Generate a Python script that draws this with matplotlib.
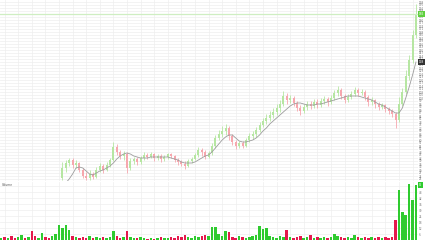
import numpy as np
import matplotlib.pyplot as plt
from matplotlib.ticker import MultipleLocator, FormatStrFormatter

# daily candles, oldest first (first 18 sit below the visible price range)
opens = [10, 12, 11, 13, 12, 10, 11, 13, 12, 14, 13, 11, 12, 14, 13, 12, 14, 16,
         22, 32, 37, 40, 35, 37, 30, 24, 22, 26, 23, 30, 34, 30, 35, 40, 53, 48, 44, 46, 32, 39, 41, 38,
         42, 45, 43, 46, 42, 44, 41, 43, 46, 44, 40, 38, 36, 34, 39, 41, 45, 50, 48, 43,
         47, 54, 62, 66, 69, 72, 64, 58, 54, 57, 54, 60, 64, 66, 70, 75, 79, 82, 85, 88,
         92, 96, 104, 100, 102, 97, 92, 89, 93, 96, 94, 98, 95, 99, 101, 98, 102, 107, 110, 104,
         100, 103, 106, 110, 107, 108, 103, 98, 100, 96, 93, 95, 91, 89, 86, 80, 96, 108, 124, 140, 165]
closes = [12, 11, 13, 12, 10, 11, 13, 12, 14, 13, 11, 12, 14, 13, 12, 14, 16, 17,
          32, 37, 40, 35, 37, 30, 24, 22, 26, 23, 30, 34, 30, 35, 40, 53, 48, 44, 46, 32, 39, 41, 38, 42,
          45, 43, 46, 42, 44, 41, 43, 46, 44, 40, 38, 36, 34, 39, 41, 45, 50, 48, 43, 47,
          54, 62, 66, 69, 72, 64, 58, 54, 57, 54, 60, 64, 66, 70, 75, 79, 82, 85, 88, 92,
          96, 104, 100, 102, 97, 92, 89, 93, 96, 94, 98, 95, 99, 101, 98, 102, 107, 110, 104, 100,
          103, 106, 110, 107, 108, 103, 98, 100, 96, 93, 95, 91, 89, 86, 80, 96, 108, 124, 140, 165, 186]
highs = [13, 13, 14, 14, 13, 12, 14, 14, 15, 15, 14, 13, 15, 15, 14, 15, 17, 18,
         38, 40, 42, 42, 40, 38, 32, 28, 30, 28, 33, 37, 36, 38, 42, 58, 56, 50, 49, 48, 42, 43, 43, 44,
         48, 47, 48, 47, 46, 46, 45, 47, 47, 45, 42, 40, 39, 41, 43, 47, 53, 52, 50, 49,
         57, 65, 70, 74, 76, 74, 66, 60, 59, 59, 62, 67, 69, 73, 78, 82, 86, 89, 92, 96,
         100, 109, 107, 105, 104, 99, 95, 96, 99, 99, 101, 101, 102, 104, 103, 105, 110, 114, 112, 106,
         106, 109, 113, 112, 111, 110, 105, 103, 101, 98, 97, 96, 93, 91, 88, 103, 112, 130, 145, 170, 196]
lows = [9, 10, 10, 11, 9, 9, 10, 11, 11, 12, 10, 10, 11, 12, 11, 11, 13, 15,
        20, 28, 34, 32, 32, 28, 22, 20, 20, 21, 22, 28, 27, 29, 33, 39, 45, 41, 40, 27, 30, 36, 35, 36,
        40, 41, 42, 39, 40, 38, 39, 41, 42, 38, 35, 34, 31, 33, 37, 40, 43, 44, 41, 42,
        45, 52, 60, 63, 65, 60, 55, 51, 52, 52, 53, 58, 61, 63, 68, 73, 76, 79, 82, 85,
        88, 94, 96, 97, 94, 89, 85, 87, 90, 91, 92, 92, 93, 96, 94, 96, 100, 104, 101, 97,
        98, 101, 104, 104, 105, 100, 94, 95, 92, 90, 91, 88, 86, 83, 72, 78, 94, 106, 120, 137, 162]
ma = [8, 8, 9, 9, 9, 10, 10, 10, 11, 11, 11, 11, 12, 12, 12, 12, 13, 13,
      14, 17, 21, 26, 32, 33, 32, 29, 26, 25, 27, 29, 30, 32, 34, 37, 41, 44, 46, 47, 46, 44, 43, 42,
      42, 42, 43, 43, 43, 43, 43, 43, 42, 41, 40, 38, 37, 37, 37, 38, 40, 42, 44, 45,
      48, 52, 56, 60, 63, 65, 65, 62, 59, 58, 58, 59, 60, 62, 65, 69, 72, 76, 79, 82,
      85, 88, 91, 94, 96, 97, 97, 96, 95, 95, 95, 96, 96, 97, 98, 99, 100, 101, 102, 103,
      104, 104, 104, 104, 103, 102, 101, 100, 98, 96, 95, 93, 91, 89, 87, 87, 92, 102, 113, 125, 138]
volume = [2, 3, 2, 4, 2, 3, 5, 2, 3, 9, 4, 2, 7, 3, 2, 4, 6, 15,
          12, 15, 10, 4, 3, 2, 3, 2, 4, 2, 3, 2, 3, 2, 3, 9, 4, 2, 3, 9, 3, 2, 2, 3,
          2, 1, 2, 1, 2, 3, 2, 2, 3, 2, 4, 3, 5, 3, 2, 4, 3, 4, 5, 4,
          13, 13, 6, 4, 9, 8, 3, 2, 4, 3, 2, 3, 4, 5, 14, 11, 12, 4, 3, 2,
          4, 3, 10, 3, 2, 3, 4, 2, 3, 5, 2, 3, 2, 3, 2, 3, 6, 4, 3, 2,
          3, 2, 5, 3, 2, 3, 2, 3, 2, 3, 2, 3, 2, 3, 20, 50, 28, 25, 56, 40, 55]
vol_ticks = [6, 12, 18, 24, 30, 36, 42, 48, 54]

o = np.array(opens, float)
c = np.array(closes, float)
h = np.array(highs, float)
l = np.array(lows, float)
idx = np.arange(len(c))
up = c >= o

W = 418 / 427
fig = plt.figure(figsize=(4.27, 2.4), dpi=100)
ax = fig.add_axes([0, 59 / 240, W, 181 / 240])
axv = fig.add_axes([0, 0, W, 58 / 240], sharex=ax)

for a in (ax, axv):
    for s in a.spines.values():
        s.set_visible(False)
    a.grid(True, color='#eeeeee', lw=0.5)
    a.set_axisbelow(True)
    a.yaxis.tick_right()
    a.tick_params(axis='y', length=0, pad=0.8, labelsize=2, labelcolor='#777')
    a.tick_params(axis='x', length=0, labelbottom=False)
    a.xaxis.set_major_locator(MultipleLocator(4, offset=1))

# candles
ccol = np.where(up, '#b6e6a2', '#f6a7ae')
ax.vlines(idx, l, h, colors=ccol, lw=0.6)
ax.bar(idx, np.maximum(np.abs(c - o), 0.4), bottom=np.minimum(o, c), width=0.6,
       color=ccol, linewidth=0)
ax.plot(idx, ma, color='#9c9c9c', lw=0.6)
ax.axhline(c[-1], color='#cfeec2', lw=0.9)

ax.set_xlim(-0.35, 122.6)
ax.set_ylim(19, 200)
ax.yaxis.set_major_locator(MultipleLocator(3))
ax.yaxis.set_major_formatter(FormatStrFormatter('%.0f'))
ax.text(1.002, c[-1], f'{c[-1]:.0f}', transform=ax.get_yaxis_transform(),
        fontsize=2, color='white', va='center', ha='left',
        bbox=dict(boxstyle='square,pad=0.2', fc='#5fcf3f', ec='none'))
ax.text(1.002, ma[-1], f'{ma[-1]:.0f}', transform=ax.get_yaxis_transform(),
        fontsize=2, color='white', va='center', ha='left',
        bbox=dict(boxstyle='square,pad=0.2', fc='#333333', ec='none'))

# volume
vcol = np.where(up, '#2fcb2f', '#e5194d')
axv.bar(idx, volume, width=0.75, color=vcol, linewidth=0)
axv.set_ylim(0, 58)
axv.set_yticks(vol_ticks)
axv.text(0.004, 0.99, 'Volume', transform=axv.transAxes, fontsize=2.2,
         color='#555', va='top', ha='left')
axv.text(1.002, volume[-1], f'{volume[-1]}', transform=axv.get_yaxis_transform(),
         fontsize=2, color='white', va='center', ha='left',
         bbox=dict(boxstyle='square,pad=0.2', fc='#2fcb2f', ec='none'))

fig.savefig('out.png', dpi=100)
